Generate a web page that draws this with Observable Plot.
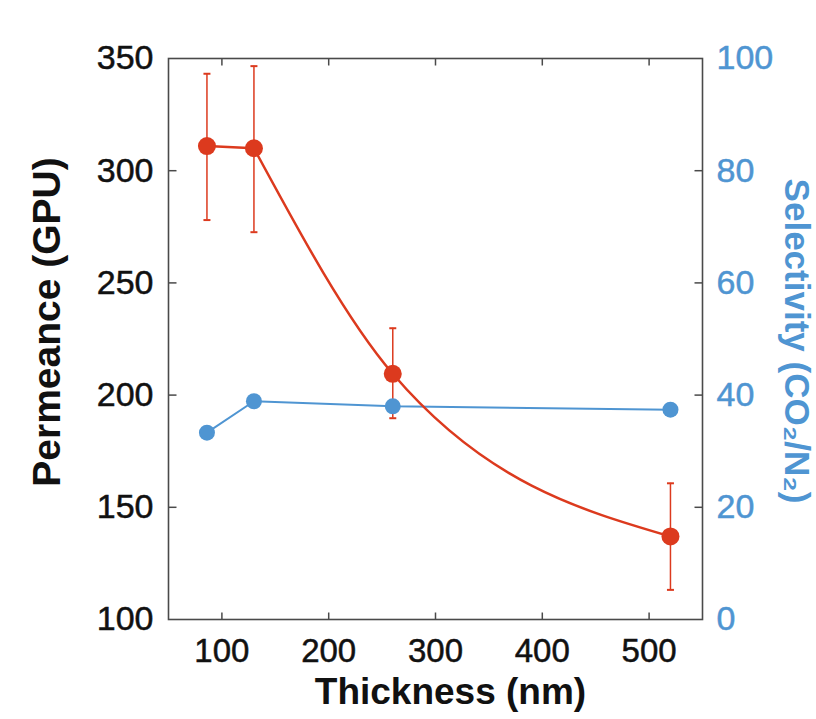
<!DOCTYPE html>
<html>
<head>
<meta charset="utf-8">
<script src="https://cdn.jsdelivr.net/npm/d3@7"></script>
<script src="https://cdn.jsdelivr.net/npm/@observablehq/plot@0.6"></script>
<style>
  html, body { margin: 0; padding: 0; background: #fff; }
</style>
</head>
<body>
<div id="chart"></div>
<script>
// ---- data ----
const thickness = [86, 130, 260, 520];
const permeance = [311, 310, 209.5, 137];
const permErrLow = [278, 272.6, 189.7, 113.2];
const permErrHigh = [343.2, 346.6, 229.8, 160.7];
const selectivity = [33.3, 38.9, 38.0, 37.4];
const xTicks = [100, 200, 300, 400, 500];
const permTicks = [100, 150, 200, 250, 300, 350];
const selTicks = [0, 20, 40, 60, 80, 100];

const RED = "#dc3a1e";
const BLUE = "#4f95d2";
const AXIS = "#4a4a4a";

// selectivity (0..100) mapped onto permeance scale (100..350)
const toLeft = s => 100 + s * 2.5;
const fromLeft = p => (p - 100) / 2.5;

const rows = thickness.map((t, i) => ({
  t, p: permeance[i], lo: permErrLow[i], hi: permErrHigh[i], s: selectivity[i]
}));

const tickUp = {draw(c) { c.moveTo(0, 0); c.lineTo(0, -7); }};
const tickDown = {draw(c) { c.moveTo(0, 0); c.lineTo(0, 7); }};
const tickRight = {draw(c) { c.moveTo(0, 0); c.lineTo(8, 0); }};
const tickLeft = {draw(c) { c.moveTo(0, 0); c.lineTo(-8, 0); }};
const cap = {draw(c) { c.moveTo(-3.5, 0); c.lineTo(3.5, 0); }};

const font = "'Liberation Sans', Arial, Helvetica, sans-serif";

const chart = Plot.plot({
  width: 816,
  height: 719,
  marginLeft: 168,
  marginRight: 114,
  marginTop: 58,
  marginBottom: 100,
  style: {fontFamily: font, background: "#fff"},
  x: {domain: [50, 550]},
  y: {domain: [100, 350]},
  marks: [
    // axes labels
    Plot.axisX(xTicks, {anchor: "bottom", tickSize: 0, tickPadding: 19, fontSize: 33, label: null, fill: "#111"}),
    Plot.axisY(permTicks, {anchor: "left", tickSize: 0, tickPadding: 15, fontSize: 34, label: null, fill: "#111"}),
    Plot.axisY(selTicks.map(toLeft), {anchor: "right", tickSize: 0, tickPadding: 14, fontSize: 34, label: null,
      fill: BLUE, tickFormat: d => String(Math.round(fromLeft(d)))}),
    // inward tick marks
    Plot.dot(xTicks, {x: d => d, frameAnchor: "bottom", symbol: tickUp, stroke: AXIS, fill: "none", strokeWidth: 1.5}),
    Plot.dot(xTicks, {x: d => d, frameAnchor: "top", symbol: tickDown, stroke: AXIS, fill: "none", strokeWidth: 1.5}),
    Plot.dot(permTicks.slice(1, -1), {y: d => d, frameAnchor: "left", symbol: tickRight, stroke: AXIS, fill: "none", strokeWidth: 1.5}),
    Plot.dot(selTicks.slice(1, -1).map(toLeft), {y: d => d, frameAnchor: "right", symbol: tickLeft, stroke: AXIS, fill: "none", strokeWidth: 1.5}),
    Plot.frame({stroke: AXIS, strokeWidth: 1.6}),
    // error bars
    Plot.ruleX(rows, {x: "t", y1: "lo", y2: "hi", stroke: RED, strokeWidth: 1.5}),
    Plot.dot(rows, {x: "t", y: "hi", symbol: cap, stroke: RED, fill: "none", strokeWidth: 2}),
    Plot.dot(rows, {x: "t", y: "lo", symbol: cap, stroke: RED, fill: "none", strokeWidth: 2}),
    // selectivity
    Plot.line(rows, {x: "t", y: d => toLeft(d.s), stroke: BLUE, strokeWidth: 2}),
    Plot.dot(rows, {x: "t", y: d => toLeft(d.s), r: 8, fill: BLUE, stroke: "none"}),
    // permeance
    Plot.line(rows.slice(0, 2), {x: "t", y: "p", stroke: RED, strokeWidth: 2.5}),
    Plot.line(rows.slice(1), {x: "t", y: "p", stroke: RED, strokeWidth: 2.5, curve: "monotone-x"}),
    Plot.dot(rows, {x: "t", y: "p", r: 9, fill: RED, stroke: "none"}),
    // titles
    Plot.text(["Thickness (nm)"], {frameAnchor: "bottom", textAnchor: "middle", dx: 15, dy: 84, fontSize: 37, fontWeight: "bold", fill: "#111"}),
    Plot.text(["Permeance (GPU)"], {frameAnchor: "left", textAnchor: "middle", dx: -121, dy: -17, rotate: -90, fontSize: 39, fontWeight: "bold", fill: "#111"}),
    Plot.text(["Selectivity (CO₂/N₂)"], {frameAnchor: "right", textAnchor: "middle", dx: 94, dy: 2, rotate: 90, fontSize: 35, fontWeight: "bold", fill: BLUE})
  ]
});
// thicken tick labels slightly (reference uses a medium weight)
chart.querySelectorAll('g[aria-label$="tick label"]').forEach(g => {
  const f = g.getAttribute("fill") || "#111";
  g.setAttribute("stroke", f);
  g.setAttribute("stroke-width", "0.5");
});
document.getElementById("chart").appendChild(chart);
</script>
</body>
</html>
